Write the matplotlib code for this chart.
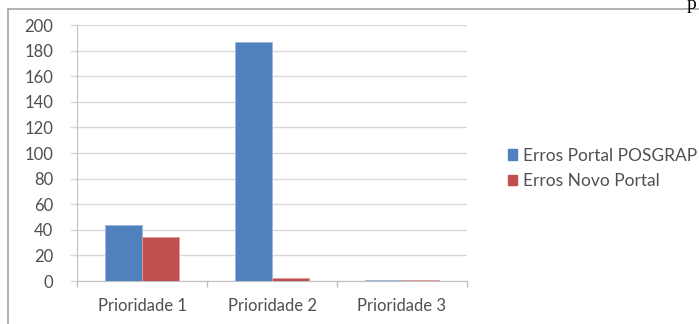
import matplotlib.pyplot as plt
import numpy as np
from matplotlib.lines import Line2D
from matplotlib.patches import Patch

categories = ['Prioridade 1', 'Prioridade 2', 'Prioridade 3']
erros_posgrap = [44, 187, 1]
erros_novo = [34, 2, 1]
series_names = ['Erros Portal POSGRAP', 'Erros Novo Portal']

blue = '#4F81BD'
red = '#C0504D'
grid_c = '#D9D9D9'
text_c = '#505050'

W, H = 699, 324
fig = plt.figure(figsize=(W / 100, H / 100), dpi=100)
plt.rcParams['font.family'] = ['Lato', 'DejaVu Sans']

ax = fig.add_axes([77 / W, 43 / H, 390 / W, 256 / H])

x = np.arange(len(categories))
bw = 0.285
ax.bar(x - bw / 2, erros_posgrap, bw, color=blue, edgecolor='#9DB7DA', linewidth=0.6, zorder=3)
ax.bar(x + bw / 2, erros_novo, bw, color=red, edgecolor='#DE9E9C', linewidth=0.6, zorder=3)

ax.set_xlim(-0.5, len(categories) - 0.5)
ax.set_ylim(0, 200)
ax.set_yticks(range(0, 201, 20))
ax.yaxis.grid(True, color=grid_c, linewidth=1.0, zorder=0)
ax.set_axisbelow(True)

for s in ['top', 'right']:
    ax.spines[s].set_visible(False)
ax.spines['left'].set_color('#BFBFBF')
ax.spines['bottom'].set_color('#BFBFBF')

ax.tick_params(axis='y', length=5, width=1, color=grid_c, labelsize=12,
               labelcolor=text_c, pad=12)
ax.set_xticks(x)
ax.set_xticklabels(categories)
ax.tick_params(axis='x', which='major', length=0, labelsize=12, labelcolor=text_c, pad=12)
ax.set_xticks(np.arange(-0.5, len(categories)), minor=True)
ax.tick_params(axis='x', which='minor', length=4, width=1, color='#BFBFBF')

handles = [Patch(color=blue), Patch(color=red)]
fig.legend(handles, series_names, loc='center left', bbox_to_anchor=(492 / W, 0.48),
           frameon=False, fontsize=12.5, labelcolor=text_c, handlelength=0.55,
           handleheight=0.55, handletextpad=0.35, labelspacing=0.55)

# chart area border
border = '#A6A6A6'
fig.add_artist(Line2D([8 / W, 8 / W], [0, 1 - 9 / H], color=border, linewidth=1.2))
fig.add_artist(Line2D([8 / W, 1], [1 - 9 / H, 1 - 9 / H], color=border, linewidth=1.2))
fig.text(687 / W, 1 - 9 / H, 'p', family='Liberation Serif', fontsize=14,
         color='black', va='baseline', ha='left')

fig.savefig('out.png', dpi=100)
